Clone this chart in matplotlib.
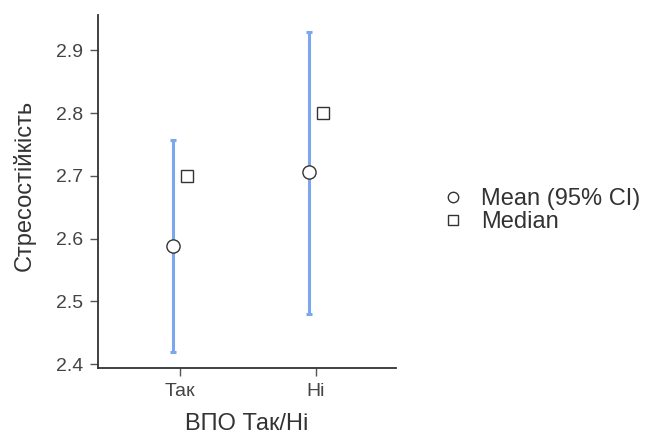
import matplotlib
matplotlib.use('Agg')
import matplotlib.pyplot as plt
from matplotlib.lines import Line2D

# ── Data ─────────────────────────────────────────────────────────────────────
groups   = ['Так', 'Ні']
means    = [2.588, 2.706]
ci_low   = [2.419, 2.480]
ci_high  = [2.757, 2.930]
medians  = [2.700, 2.800]
y_ticks  = [2.4, 2.5, 2.6, 2.7, 2.8, 2.9]

plt.rcParams['font.family'] = ['Liberation Sans', 'DejaVu Sans']

fig = plt.figure(figsize=(6.72, 4.34), dpi=100)
ax = fig.add_axes([0.146, 0.152, 0.443, 0.813])

xs = list(range(len(groups)))
off = 0.05
blue = '#7ba7ee'
grey = '#333333'

for i in xs:
    ax.errorbar(i - off, means[i],
                yerr=[[means[i] - ci_low[i]], [ci_high[i] - means[i]]],
                fmt='none', ecolor=blue, elinewidth=2.2, capsize=2.5, capthick=2.2,
                zorder=2)
ax.plot([i - off for i in xs], means, 'o', ms=9.5, mfc='white', mec=grey,
        mew=1.0, ls='none', zorder=3)
ax.plot([i + off for i in xs], medians, 's', ms=8, mfc='white', mec=grey,
        mew=1.0, ls='none', zorder=3)

ax.set_xlim(-0.603, 1.588)
ax.set_ylim(2.394, 2.956)
ax.set_xticks(xs)
ax.set_xticklabels(groups)
ax.set_yticks(y_ticks)
ax.set_yticklabels([f'{v:.1f}' for v in y_ticks])

for s in ['top', 'right']:
    ax.spines[s].set_visible(False)
for s in ['left', 'bottom']:
    ax.spines[s].set_color(grey)
    ax.spines[s].set_linewidth(1.3)
ax.tick_params(labelcolor='#444444', labelsize=14, length=6, width=1.0,
               color='#555555', pad=5)

ax.set_ylabel('Стресостійкість', fontsize=17, color='#333333')
ax.set_xlabel('ВПО Так/Ні', fontsize=17, color='#333333')
ax.yaxis.set_label_coords(-0.21, 0.518)
ax.xaxis.set_label_coords(0.5, -0.128)

handles = [
    Line2D([], [], marker='o', ls='none', ms=7.5, mfc='white', mec=grey, mew=1.0),
    Line2D([], [], marker='s', ls='none', ms=6.5, mfc='white', mec=grey, mew=1.0),
]
fig.legend(handles, ['Mean (95% CI)', 'Median'], loc='center left',
           bbox_to_anchor=(0.625, 0.515), frameon=False, fontsize=17,
           handletextpad=0.7, labelspacing=0.05, handlelength=1.0,
           labelcolor='#333333')

fig.savefig('out.png', dpi=100)
